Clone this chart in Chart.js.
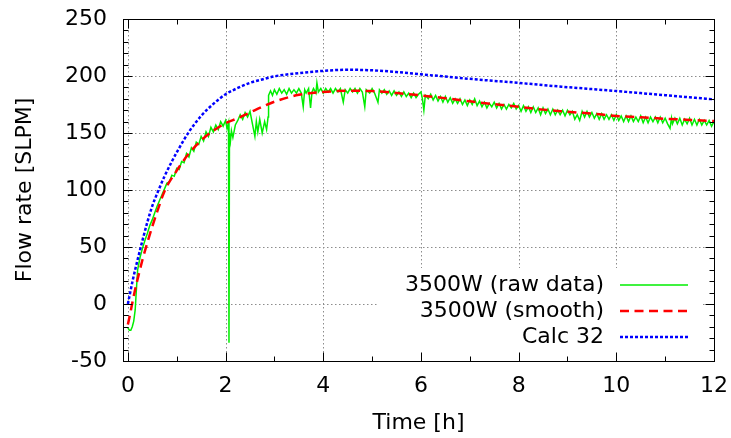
<!DOCTYPE html>
<html>
<head>
<meta charset="utf-8">
<script src="https://cdn.jsdelivr.net/npm/chart.js@4"></script>
<style>
  html, body { margin: 0; padding: 0; background: #fff; }
  #c { display: block; }
</style>
</head>
<body>
<canvas id="c" width="731" height="438"></canvas>
<script>
// axis ticks
const xTicks = [0, 2, 4, 6, 8, 10, 12];
const yTicks = [-50, 0, 50, 100, 150, 200, 250];

// measured flow, 3500W (raw)
const rawTime = [0.00, 0.03, 0.06, 0.09, 0.12, 0.15, 0.17, 0.20, 0.25, 0.30, 0.35, 0.40, 0.45, 0.50, 0.55, 0.60, 0.65, 0.70, 0.75, 0.80,
  0.85, 0.90, 0.95, 1.00, 1.05, 1.10, 1.15, 1.20, 1.25, 1.30, 1.35, 1.40, 1.45, 1.50, 1.55, 1.60, 1.65, 1.70, 1.75, 1.80,
  1.85, 1.90, 1.95, 2.00, 2.03, 2.06, 2.07, 2.08, 2.10, 2.12, 2.15, 2.20, 2.25, 2.30, 2.35, 2.40, 2.45, 2.50, 2.55, 2.60,
  2.63, 2.66, 2.70, 2.75, 2.80, 2.84, 2.87, 2.88, 2.92, 2.96, 3.00, 3.05, 3.10, 3.15, 3.20, 3.25, 3.30, 3.35, 3.40, 3.45,
  3.50, 3.55, 3.59, 3.62, 3.65, 3.70, 3.74, 3.77, 3.80, 3.85, 3.87, 3.90, 3.95, 4.00, 4.05, 4.10, 4.15, 4.20, 4.25, 4.30,
  4.35, 4.41, 4.45, 4.50, 4.55, 4.60, 4.65, 4.70, 4.75, 4.80, 4.85, 4.88, 4.95, 5.00, 5.05, 5.12, 5.15, 5.20, 5.25, 5.30,
  5.35, 5.40, 5.45, 5.50, 5.55, 5.60, 5.65, 5.70, 5.75, 5.80, 5.85, 5.90, 5.95, 6.00, 6.03, 6.06, 6.09, 6.15, 6.20, 6.25,
  6.30, 6.35, 6.40, 6.45, 6.50, 6.55, 6.60, 6.65, 6.70, 6.75, 6.80, 6.85, 6.90, 6.95, 7.00, 7.05, 7.10, 7.15, 7.20, 7.25,
  7.30, 7.35, 7.40, 7.45, 7.50, 7.55, 7.60, 7.65, 7.70, 7.75, 7.80, 7.85, 7.90, 7.95, 8.00, 8.05, 8.10, 8.15, 8.20, 8.25,
  8.30, 8.35, 8.40, 8.45, 8.50, 8.55, 8.60, 8.65, 8.70, 8.75, 8.80, 8.85, 8.90, 8.95, 9.00, 9.05, 9.10, 9.15, 9.20, 9.25,
  9.30, 9.35, 9.40, 9.45, 9.50, 9.55, 9.60, 9.65, 9.70, 9.75, 9.80, 9.85, 9.90, 9.95, 10.00, 10.05, 10.10, 10.15, 10.20, 10.25,
  10.30, 10.35, 10.40, 10.45, 10.50, 10.55, 10.60, 10.65, 10.70, 10.75, 10.80, 10.85, 10.90, 10.95, 11.00, 11.05, 11.10, 11.13, 11.15, 11.20,
  11.25, 11.30, 11.35, 11.40, 11.45, 11.50, 11.55, 11.60, 11.65, 11.70, 11.75, 11.80, 11.85, 11.90, 11.95, 12.00];
const rawFlow = [-21, -23, -23, -20, -15, -5, 10, 30, 41, 49, 56, 62, 69, 74, 80, 86, 91, 96, 101, 106,
  107, 113, 112, 119, 118, 125, 124, 132, 129, 137, 134, 142, 140, 147, 143, 151, 147, 155, 151, 157,
  153, 160, 156, 161, 154, 159, -34, 150, 143, 152, 146, 157, 161, 166, 162, 168, 164, 169, 158, 147,
  160, 151, 162, 150, 160, 153, 164, 183, 187, 183, 188, 184, 189, 185, 188, 184, 189, 185, 188, 185,
  189, 185, 173, 188, 185, 189, 172, 186, 189, 185, 194, 186, 189, 185, 189, 186, 189, 185, 189, 186,
  189, 177, 188, 185, 189, 186, 189, 185, 189, 186, 173, 188, 185, 189, 185, 177, 188, 185, 188, 184,
  187, 183, 187, 183, 186, 182, 186, 182, 185, 181, 185, 181, 184, 186, 180, 170, 183, 180, 184, 179,
  183, 178, 182, 177, 182, 177, 181, 176, 180, 176, 180, 175, 179, 174, 179, 175, 180, 174, 178, 173,
  177, 172, 176, 173, 177, 172, 176, 171, 175, 171, 175, 172, 176, 171, 174, 169, 174, 169, 173, 168,
  173, 168, 172, 166, 172, 167, 171, 166, 171, 166, 170, 166, 170, 165, 170, 166, 169, 162, 166, 161,
  169, 164, 169, 164, 168, 163, 167, 162, 167, 162, 166, 162, 166, 161, 166, 161, 165, 160, 165, 160,
  165, 160, 164, 160, 165, 159, 164, 159, 164, 160, 164, 159, 164, 159, 163, 158, 154, 163, 158, 163,
  158, 163, 157, 162, 158, 163, 157, 162, 157, 162, 157, 161, 157, 161, 156, 160];

// 3500W (smooth)
const smoothTime = [0, 0.05, 0.1, 0.15, 0.2, 0.3, 0.4, 0.5, 0.6, 0.75, 1.0, 1.25, 1.5, 1.75, 2.0, 2.25, 2.5, 2.75, 3.0, 3.5,
  4.0, 4.5, 5.0, 5.5, 6.0, 6.5, 7.0, 7.5, 8.0, 8.5, 9.0, 9.5, 10.0, 10.5, 11.0, 11.5, 12.0];
const smoothFlow = [-18, -8, 3, 13, 22, 39, 54, 68, 81, 99, 117, 132, 143.5, 152, 158.5, 163, 168, 173, 177.5, 183.5,
  186, 187, 186.8, 185, 183, 180.5, 177.8, 175.3, 173, 170.5, 168.7, 167, 165, 163.8, 162.5, 161.5, 160.5];

// Calc 32
const calcTime = [0, 0.1, 0.2, 0.3, 0.4, 0.5, 0.6, 0.75, 0.9, 1.0, 1.25, 1.5, 1.75, 2.0, 2.25, 2.5, 2.75, 3.0, 3.5, 4.0,
  4.5, 5.0, 5.5, 6.0, 6.5, 7.0, 7.5, 8.0, 8.5, 9.0, 9.5, 10.0, 10.5, 11.0, 11.5, 12.0];
const calcFlow = [0, 21, 39, 56, 72, 86, 97, 112, 125, 133, 151, 165, 175.5, 184, 189.5, 194, 197, 199.7, 202.5, 204.5,
  205.5, 205, 203.5, 201.5, 199.5, 197.5, 195.7, 194, 192, 190.2, 188.5, 186.8, 185, 183.2, 181.3, 179.5];

const seriesLabels = ['3500W (raw data)', '3500W (smooth)', 'Calc 32'];

function pts(xs, ys) {
  return xs.map((x, i) => ({ x: x, y: ys[i] }));
}

Chart.defaults.font.family = 'DejaVu Sans';
Chart.defaults.font.size = 22;
Chart.defaults.color = '#000';

// gnuplot style grid, frame with inward ticks and a legend box
const gnuplotLook = {
  id: 'gnuplotLook',
  beforeDatasetsDraw(chart) {
    const ctx = chart.ctx, a = chart.chartArea;
    const xs = chart.scales.x, ys = chart.scales.y;
    ctx.save();
    ctx.strokeStyle = '#8c8c8c';
    ctx.lineWidth = 1;
    ctx.setLineDash([1.5, 2.5]);
    xTicks.forEach(v => {
      const px = Math.round(xs.getPixelForValue(v)) + 0.5;
      ctx.beginPath(); ctx.moveTo(px, a.top); ctx.lineTo(px, a.bottom); ctx.stroke();
    });
    yTicks.forEach(v => {
      const py = Math.round(ys.getPixelForValue(v)) + 0.5;
      ctx.beginPath(); ctx.moveTo(a.left, py); ctx.lineTo(a.right, py); ctx.stroke();
    });
    ctx.restore();
  },
  afterDatasetsDraw(chart) {
    const ctx = chart.ctx, a = chart.chartArea;
    const xs = chart.scales.x, ys = chart.scales.y;
    ctx.save();
    // legend box
    ctx.fillStyle = '#fff';
    ctx.fillRect(378, 268, 325, 88);
    ctx.font = '22px "DejaVu Sans"';
    ctx.textAlign = 'right';
    ctx.textBaseline = 'middle';
    chart.data.datasets.forEach((ds, i) => {
      const y = 285 + i * 26;
      ctx.fillStyle = '#000';
      ctx.fillText(ds.label, 604, y);
      ctx.strokeStyle = ds.borderColor;
      ctx.lineWidth = ds.borderWidth;
      ctx.setLineDash(ds.borderDash || []);
      ctx.beginPath(); ctx.moveTo(620, y); ctx.lineTo(688, y); ctx.stroke();
    });
    ctx.setLineDash([]);
    // frame
    ctx.strokeStyle = '#000';
    ctx.lineWidth = 1;
    const L = Math.round(a.left) + 0.5, R = Math.round(a.right) + 0.5;
    const T = Math.round(a.top) + 0.5, B = Math.round(a.bottom) + 0.5;
    ctx.strokeRect(L, T, R - L, B - T);
    ctx.beginPath();
    const xTick = (v, len) => {
      const px = Math.round(xs.getPixelForValue(v)) + 0.5;
      ctx.moveTo(px, B); ctx.lineTo(px, B - len);
      ctx.moveTo(px, T); ctx.lineTo(px, T + len);
    };
    const yTick = (v, len) => {
      const py = Math.round(ys.getPixelForValue(v)) + 0.5;
      ctx.moveTo(L, py); ctx.lineTo(L + len, py);
      ctx.moveTo(R, py); ctx.lineTo(R - len, py);
    };
    for (let v = Math.ceil(xs.min); v <= xs.max; v++) xTick(v, xTicks.includes(v) ? 9 : 5);
    for (let v = ys.min; v <= ys.max; v += 10) yTick(v, yTicks.includes(v) ? 9 : 5);
    ctx.stroke();
    ctx.restore();
  }
};

new Chart(document.getElementById('c'), {
  type: 'line',
  data: {
    datasets: [{
      label: seriesLabels[0],
      data: pts(rawTime, rawFlow),
      borderColor: '#00ee00',
      borderWidth: 1.5,
      pointRadius: 0,
      tension: 0,
      order: 3
    }, {
      label: seriesLabels[1],
      data: pts(smoothTime, smoothFlow),
      borderColor: '#ff0000',
      borderWidth: 2.5,
      borderDash: [9, 5.5],
      pointRadius: 0,
      cubicInterpolationMode: 'monotone',
      order: 2
    }, {
      label: seriesLabels[2],
      data: pts(calcTime, calcFlow),
      borderColor: '#0000ff',
      borderWidth: 2.5,
      borderDash: [3, 2],
      pointRadius: 0,
      cubicInterpolationMode: 'monotone',
      order: 1
    }]
  },
  options: {
    responsive: false,
    animation: false,
    layout: { padding: { top: 19, right: 17, left: 0, bottom: 0 } },
    plugins: { legend: { display: false }, tooltip: { enabled: false } },
    scales: {
      x: {
        type: 'linear',
        min: -0.1,
        max: 12,
        afterBuildTicks: s => { s.ticks = xTicks.map(v => ({ value: v })); },
        afterFit: s => { s.height = 77; s.paddingLeft = 0; s.paddingRight = 0; },
        grid: { display: false, drawTicks: false },
        border: { display: false },
        ticks: { padding: 12, maxRotation: 0 },
        title: { display: true, text: 'Time [h]', padding: { top: 0, bottom: 2 } }
      },
      y: {
        type: 'linear',
        min: -50,
        max: 250,
        afterBuildTicks: s => { s.ticks = yTicks.map(v => ({ value: v })); },
        afterFit: s => { s.width = 123; s.paddingTop = 0; s.paddingBottom = 0; },
        grid: { display: false, drawTicks: false },
        border: { display: false },
        ticks: { padding: 16 },
        title: { display: true, text: 'Flow rate [SLPM]', padding: { top: 12, bottom: 0 } }
      }
    }
  },
  plugins: [gnuplotLook]
});
</script>
</body>
</html>
